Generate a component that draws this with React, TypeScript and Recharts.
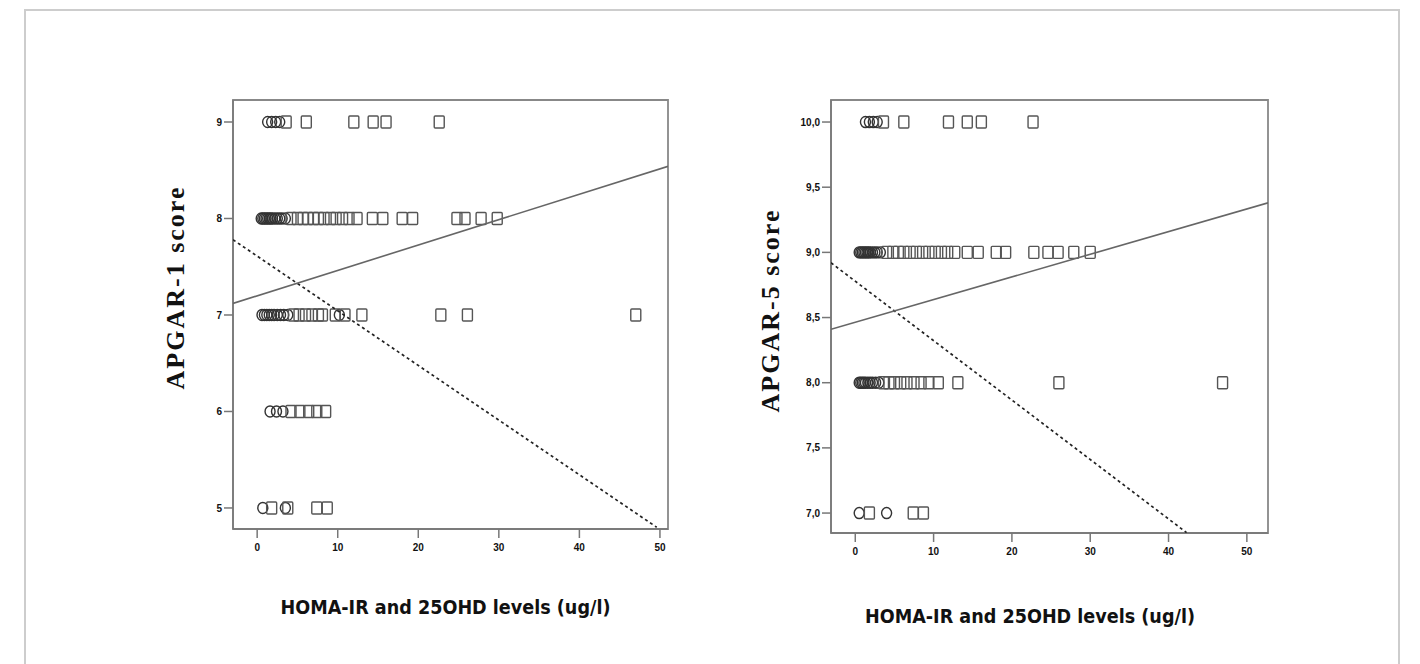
import React from 'react';
import { ComposedChart, Scatter, XAxis, YAxis, ReferenceArea, Label } from 'recharts';

// x axis (HOMA-IR and 25OHD levels, ug/l)
const xTicks = [0, 10, 20, 30, 40, 50];
const apgar1Ticks = [5, 6, 7, 8, 9];
const apgar5Ticks = [7, 7.5, 8, 8.5, 9, 9.5, 10];

// APGAR-1 panel, [x, score]
const apgar1Homa: [number, number][] = [
  [1.3, 9], [1.8, 9], [2.3, 9], [2.8, 9],
  [0.5, 8], [0.7, 8], [0.9, 8], [1.1, 8], [1.3, 8], [1.5, 8], [1.7, 8], [1.9, 8], [2.2, 8],
  [2.5, 8], [2.8, 8], [3.1, 8], [3.5, 8],
  [0.6, 7], [0.9, 7], [1.2, 7], [1.5, 7], [1.8, 7], [2.1, 7], [2.5, 7], [2.9, 7], [3.3, 7],
  [3.8, 7], [10.2, 7],
  [1.6, 6], [2.4, 6], [3.2, 6],
  [0.7, 5], [3.5, 5],
];
const apgar1Vitd: [number, number][] = [
  [3.6, 9], [6.1, 9], [12.0, 9], [14.4, 9], [16.0, 9], [22.6, 9],
  [4.2, 8], [5.0, 8], [5.7, 8], [6.3, 8], [7.0, 8], [7.6, 8], [8.3, 8], [9.1, 8], [9.8, 8],
  [10.6, 8], [11.4, 8], [12.4, 8], [14.3, 8], [15.6, 8], [18.0, 8], [19.3, 8], [24.8, 8],
  [25.8, 8], [27.8, 8], [29.8, 8],
  [4.5, 7], [5.2, 7], [6.0, 7], [6.8, 7], [7.6, 7], [8.1, 7], [9.7, 7], [10.9, 7], [13.0, 7],
  [22.8, 7], [26.1, 7], [47.0, 7],
  [4.2, 6], [5.3, 6], [6.4, 6], [7.4, 6], [8.5, 6],
  [1.8, 5], [3.8, 5], [7.4, 5], [8.7, 5],
];
const apgar1HomaFit: [number, number][] = [[-3, 7.78], [49.6, 4.8]];
const apgar1VitdFit: [number, number][] = [[-3, 7.12], [51, 8.54]];

// APGAR-5 panel, [x, score]
const apgar5Homa: [number, number][] = [
  [1.3, 10], [1.8, 10], [2.3, 10], [2.8, 10],
  [0.5, 9], [0.7, 9], [0.9, 9], [1.1, 9], [1.3, 9], [1.5, 9], [1.7, 9], [1.9, 9], [2.2, 9],
  [2.5, 9], [2.8, 9], [3.2, 9],
  [0.5, 8], [0.7, 8], [0.9, 8], [1.1, 8], [1.3, 8], [1.6, 8], [1.9, 8], [2.2, 8], [2.6, 8],
  [3.0, 8],
  [0.5, 7], [4.0, 7],
];
const apgar5Vitd: [number, number][] = [
  [3.6, 10], [6.2, 10], [11.9, 10], [14.3, 10], [16.1, 10], [22.7, 10],
  [4.0, 9], [4.8, 9], [5.5, 9], [6.2, 9], [7.0, 9], [7.8, 9], [8.6, 9], [9.4, 9], [10.2, 9],
  [11.0, 9], [11.8, 9], [12.7, 9], [14.3, 9], [15.7, 9], [18.0, 9], [19.2, 9], [22.8, 9],
  [24.6, 9], [25.9, 9], [27.9, 9], [30.0, 9],
  [3.6, 8], [4.3, 8], [5.0, 8], [5.8, 8], [6.6, 8], [7.5, 8], [8.4, 8], [9.4, 8], [10.6, 8],
  [13.1, 8], [26.0, 8], [46.9, 8],
  [1.8, 7], [7.4, 7], [8.7, 7],
];
const apgar5HomaFit: [number, number][] = [[-3.1, 8.92], [42.3, 6.85]];
const apgar5VitdFit: [number, number][] = [[-3.1, 8.41], [52.7, 9.38]];

const toPoints = (rows: [number, number][]) => rows.map(([x, y]) => ({ x, y }));

const CircleMark = (p: any) => (
  <ellipse cx={p.cx} cy={p.cy} rx={5} ry={5.5} fill="none" stroke="#333" strokeWidth={1.4} />
);
const SquareMark = (p: any) => (
  <rect x={p.cx - 5} y={p.cy - 6} width={10} height={12} rx={1} fill="none" stroke="#555" strokeWidth={1.4} />
);
const NoMark = () => <g />;

const tickStyle = { fontSize: 10, fontWeight: 900, fill: '#111', fontFamily: 'Liberation Sans, Arial, sans-serif' };

interface PanelProps {
  left: number;
  yTitle: string;
  yTicks: number[];
  yDomain: [number, number];
  xDomain: [number, number];
  yAxisWidth: number;
  bottom: number;
  homa: [number, number][];
  vitd: [number, number][];
  homaFit: [number, number][];
  vitdFit: [number, number][];
  tickFmt: (v: number) => string;
  yTitlePos: { dx: number; dy: number };
  xTitlePos: { dx: number; dy: number };
}

function Panel(props: PanelProps) {
  const { yDomain, xDomain } = props;

  // y title, rotated bold serif
  const renderYTitle = ({ viewBox }: any) => {
    const cx = viewBox.x + props.yTitlePos.dx;
    const cy = viewBox.y + viewBox.height / 2 + props.yTitlePos.dy;
    return (
      <text
        x={cx}
        y={cy}
        transform={`rotate(-90 ${cx} ${cy})`}
        textAnchor="middle"
        dominantBaseline="central"
        fontFamily="Liberation Serif, Times New Roman, serif"
        fontWeight={700}
        fontSize={26}
        fill="#111"
        textLength={202}
        lengthAdjust="spacing"
      >
        {props.yTitle}
      </text>
    );
  };

  const renderXTitle = ({ viewBox }: any) => {
    const cx = viewBox.x + viewBox.width / 2 + props.xTitlePos.dx;
    const cy = viewBox.y + props.xTitlePos.dy;
    return (
      <text
        x={cx}
        y={cy}
        textAnchor="middle"
        fontFamily="Liberation Sans Narrow, DejaVu Sans Condensed, Arial, sans-serif"
        fontWeight={700}
        fontSize={20}
        fill="#111"
        textLength={330}
        lengthAdjust="spacingAndGlyphs"
      >
        HOMA-IR and 25OHD levels (ug/l)
      </text>
    );
  };

  return (
    <div style={{ position: 'absolute', left: props.left, top: 90 }}>
      <ComposedChart
        width={540}
        height={540}
        margin={{ top: 10, right: 22, left: 0, bottom: props.bottom }}
      >
        <XAxis
          type="number"
          dataKey="x"
          domain={xDomain}
          ticks={xTicks}
          allowDataOverflow
          height={30}
          tickSize={9}
          tickMargin={6}
          tick={tickStyle}
          stroke="#777"
          strokeWidth={1.5}
        >
          <Label content={renderXTitle} />
        </XAxis>
        <YAxis
          type="number"
          dataKey="y"
          domain={yDomain}
          ticks={props.yTicks}
          allowDataOverflow
          width={props.yAxisWidth}
          tickSize={9}
          tickMargin={2}
          tick={tickStyle}
          tickFormatter={props.tickFmt}
          stroke="#777"
          strokeWidth={1.5}
        >
          <Label content={renderYTitle} />
        </YAxis>
        <ReferenceArea
          x1={xDomain[0]}
          x2={xDomain[1]}
          y1={yDomain[0]}
          y2={yDomain[1]}
          fill="none"
          stroke="#888"
          strokeWidth={1.8}
          fillOpacity={0}
        />
        <Scatter
          name="HOMA-IR"
          data={toPoints(props.homa)}
          shape={CircleMark}
          isAnimationActive={false}
        />
        <Scatter
          name="25OHD"
          data={toPoints(props.vitd)}
          shape={SquareMark}
          isAnimationActive={false}
        />
        <Scatter
          name="HOMA-IR fit"
          data={toPoints(props.homaFit)}
          shape={NoMark}
          line={{ stroke: '#222', strokeWidth: 1.7, strokeDasharray: '3 3' }}
          isAnimationActive={false}
        />
        <Scatter
          name="25OHD fit"
          data={toPoints(props.vitdFit)}
          shape={NoMark}
          line={{ stroke: '#666', strokeWidth: 1.6 }}
          isAnimationActive={false}
        />
      </ComposedChart>
    </div>
  );
}

export default function App() {
  return (
    <div style={{ position: 'absolute', left: 0, top: 0, width: 1420, height: 664, background: '#fff', overflow: 'hidden' }}>
      <div
        style={{
          position: 'absolute',
          left: 24,
          top: 9,
          width: 1376,
          height: 700,
          border: '2px solid #cdcdcd',
          boxSizing: 'border-box',
        }}
      />
      <Panel
        left={150}
        yTitle="APGAR-1 score"
        yTicks={apgar1Ticks}
        yDomain={[4.782, 9.228]}
        xDomain={[-3, 51]}
        yAxisWidth={83}
        bottom={71}
        homa={apgar1Homa}
        vitd={apgar1Vitd}
        homaFit={apgar1HomaFit}
        vitdFit={apgar1VitdFit}
        tickFmt={(v) => String(v)}
        yTitlePos={{ dx: 25, dy: -26 }}
        xTitlePos={{ dx: -5, dy: 85 }}
      />
      <Panel
        left={750}
        yTitle="APGAR-5 score"
        yTicks={apgar5Ticks}
        yDomain={[6.847, 10.169]}
        xDomain={[-3.1, 52.7]}
        yAxisWidth={81}
        bottom={67}
        homa={apgar5Homa}
        vitd={apgar5Vitd}
        homaFit={apgar5HomaFit}
        vitdFit={apgar5VitdFit}
        tickFmt={(v) => v.toFixed(1).replace('.', ',')}
        yTitlePos={{ dx: 20, dy: -5 }}
        xTitlePos={{ dx: -19.5, dy: 90 }}
      />
    </div>
  );
}
